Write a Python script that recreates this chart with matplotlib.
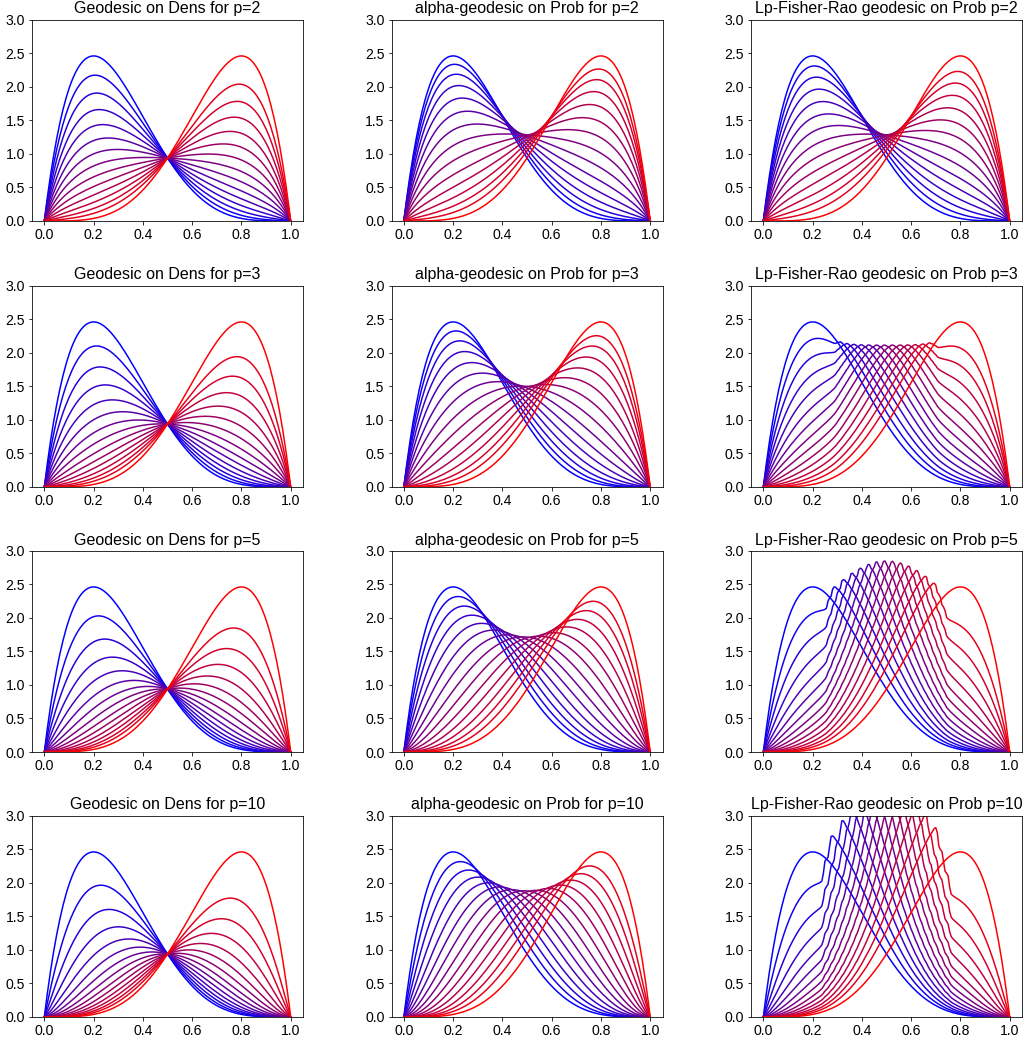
import math
import numpy as np
import matplotlib
matplotlib.use("Agg")
import matplotlib.pyplot as plt

plt.rcParams['font.family'] = ['Liberation Sans', 'DejaVu Sans']

# ------------------------------------------------------------
# chart data
# ------------------------------------------------------------
P_VALUES = [2, 3, 5, 10]               # one row per exponent p
BETA_START = (2, 5)                    # blue end density
BETA_END = (5, 2)                      # red end density
# times of the 15 drawn curves (uneven last gap)
T_VALUES = [0.0, 0.069, 0.138, 0.207, 0.276, 0.345, 0.414, 0.483,
            0.552, 0.621, 0.690, 0.759, 0.828, 0.897, 1.0]
T_GRID = 29                            # intervals of the discrete path
COL_TITLES = ["Geodesic on Dens for p={}",
              "alpha-geodesic on Prob for p={}",
              "Lp-Fisher-Rao geodesic on Prob p={}"]
X_TICKS = [0.0, 0.2, 0.4, 0.6, 0.8, 1.0]
Y_TICKS = [0.0, 0.5, 1.0, 1.5, 2.0, 2.5, 3.0]

N_X = 161
x = np.linspace(0, 1, N_X)
dx = x[1] - x[0]


def beta_pdf(a, b):
    B = math.gamma(a) * math.gamma(b) / math.gamma(a + b)
    return x ** (a - 1) * (1 - x) ** (b - 1) / B


def lp_norm(v, p):
    return (np.sum(np.abs(v) ** p, axis=-1) * dx) ** (1.0 / p)


def dens_geodesic(f0, f1, p, t):
    return ((1 - t) * f0 ** (1 / p) + t * f1 ** (1 / p)) ** p


def alpha_geodesic(f0, f1, p, t):
    g = dens_geodesic(f0, f1, p, t)
    return g / (np.sum(g) * dx)


def path_energy(U, p):
    return np.sum(lp_norm(np.diff(U, axis=0), p) ** 2)


def lp_fisher_rao_path(f0, f1, p, n_int=T_GRID, iters=300):
    """discrete geodesic on the unit Lp sphere (u = f^(1/p))"""
    u0 = f0 ** (1 / p)
    u1 = f1 ** (1 / p)
    ts = np.linspace(0, 1, n_int + 1)
    U = (1 - ts[:, None]) * u0 + ts[:, None] * u1
    U = U / lp_norm(U, p)[:, None]
    m = n_int - 1
    idx = np.arange(m)
    eta = 1.0
    E = path_energy(U, p)
    for it in range(iters):
        D = np.diff(U, axis=0)
        nD = lp_norm(D, p)
        Dn = D / nD[:, None]
        sphi = nD[:, None] * np.sign(Dn) * np.abs(Dn) ** (p - 1)
        g = 2 * (sphi[:-1] - sphi[1:])
        w = 2 * (p - 1) * (np.abs(Dn) ** (p - 2) + 1e-3)
        H = np.zeros((N_X, m, m))
        H[:, idx, idx] = (w[:-1] + w[1:]).T
        H[:, idx[:-1], idx[1:]] = -w[1:-1].T
        H[:, idx[1:], idx[:-1]] = -w[1:-1].T
        Hinv = np.linalg.inv(H)
        a = np.einsum('xkj,jx->kx', Hinv, g)
        phiU = np.abs(U[1:-1]) ** (p - 1)
        M = np.einsum('kx,xkj,jx->kj', phiU, Hinv, phiU)
        r = np.sum(phiU * a, axis=1)
        c = np.linalg.solve(M, r)
        delta = -a + np.einsum('xkj,jx,j->kx', Hinv, phiU, c)
        ok = False
        for _ in range(12):
            V = U.copy()
            V[1:-1] = np.maximum(U[1:-1] + eta * delta, 0)
            V[1:-1] /= lp_norm(V[1:-1], p)[:, None]
            E_new = path_energy(V, p)
            if E_new <= E:
                ok = True
                break
            eta *= 0.5
        if not ok:
            break
        U, E = V, E_new
        eta = min(1.0, eta * 2)
    return U ** p


f0 = beta_pdf(*BETA_START)
f1 = beta_pdf(*BETA_END)

DPI = 72
W, H_PX = 1024, 1038
fig = plt.figure(figsize=(W / DPI, H_PX / DPI), dpi=DPI)

col_left = [32, 391.5, 751]
row_top = [19.5, 285.5, 550.5, 815.5]
ax_w, ax_h = 271, 201.5

for i, p in enumerate(P_VALUES):
    fr_path = lp_fisher_rao_path(f0, f1, p)
    for j in range(3):
        ax = fig.add_axes([col_left[j] / W, 1 - (row_top[i] + ax_h) / H_PX,
                           ax_w / W, ax_h / H_PX])
        for t in T_VALUES:
            if j == 0:
                y = dens_geodesic(f0, f1, p, t)
            elif j == 1:
                y = alpha_geodesic(f0, f1, p, t)
            else:
                y = fr_path[int(round(t * T_GRID))]
            ax.plot(x, y, color=(t, 0, 1 - t), linewidth=1.5)
        ax.set_ylim(0, 3)
        ax.set_xticks(X_TICKS)
        ax.set_yticks(Y_TICKS)
        ax.tick_params(labelsize=14)
        ax.set_title(COL_TITLES[j].format(p), fontsize=16)

fig.savefig("out.png", dpi=DPI)
